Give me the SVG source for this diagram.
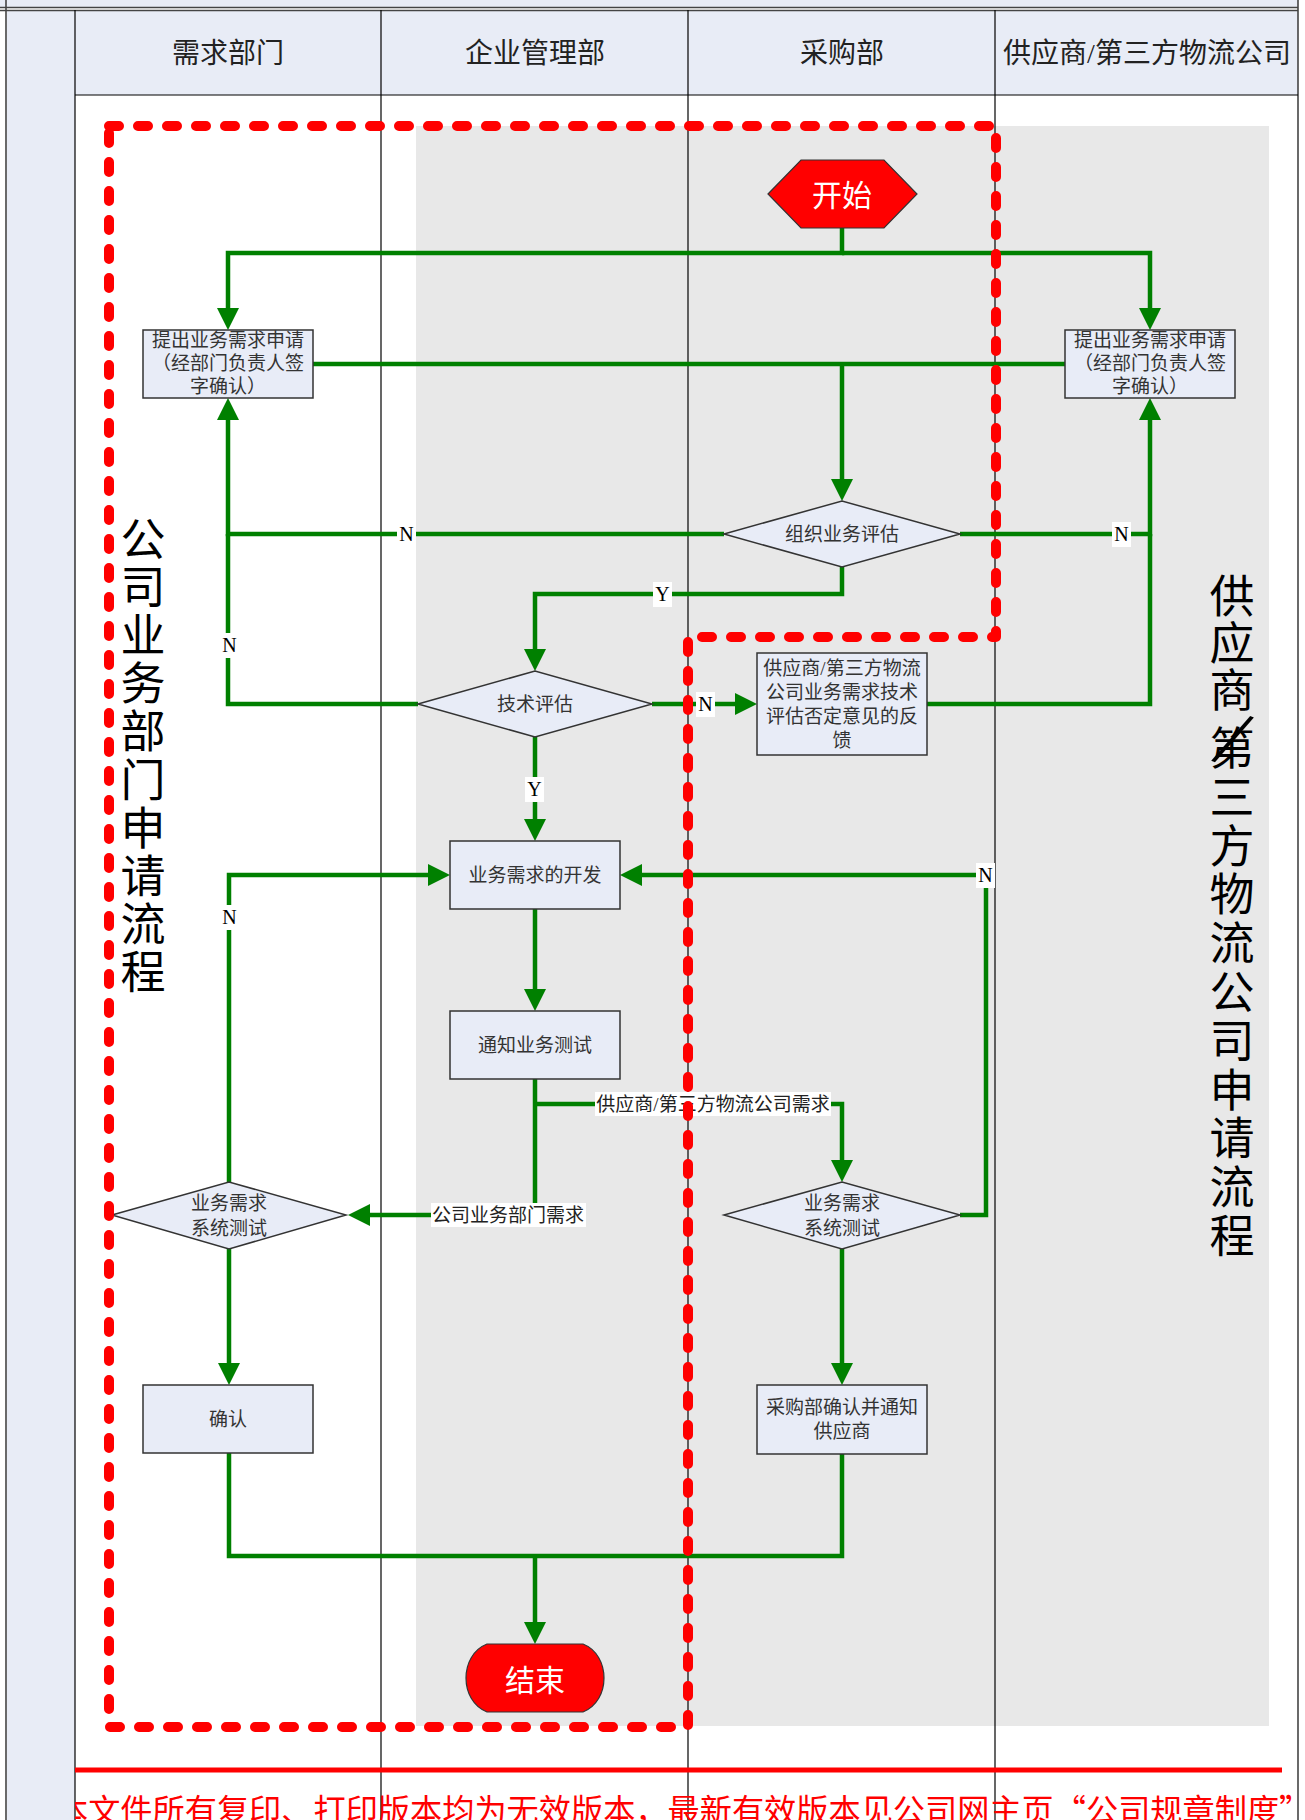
<svg xmlns="http://www.w3.org/2000/svg" width="1305" height="1820" viewBox="0 0 1305 1820">
<defs>
<style>
.lane{stroke:#000;stroke-width:1.2;fill:none}
.frame{stroke:#444;stroke-width:1.6;fill:none}
.node{fill:#E8ECF7;stroke:#333;stroke-width:1.5}
.t{font-family:"Liberation Serif","Noto Sans CJK SC",serif;font-size:19px;fill:#333;text-anchor:middle;dominant-baseline:central}
.hd{font-family:"Liberation Serif","Noto Sans CJK SC",serif;font-size:28px;fill:#222;text-anchor:middle;dominant-baseline:central}
.c{fill:none;stroke:#008000;stroke-width:4.5;stroke-linejoin:miter}
.ca{marker-end:url(#ah)}
.lbl{font-family:"Liberation Serif","Noto Sans CJK SC",serif;font-size:20px;fill:#000;text-anchor:middle;dominant-baseline:central}
.lb{fill:#fff}
.big{font-family:"Noto Sans CJK SC",sans-serif;font-size:45px;fill:#000;text-anchor:middle;dominant-baseline:central}
.term{fill:#FF0000;stroke:#333;stroke-width:1.2}
.tt{font-family:"Noto Sans CJK SC",sans-serif;font-size:30px;fill:#fff;text-anchor:middle;dominant-baseline:central}
.dash{fill:none;stroke:#FF0000;stroke-width:10;stroke-dasharray:10 19;stroke-linecap:round;stroke-linejoin:round}
</style>
<marker id="ah" markerUnits="userSpaceOnUse" markerWidth="22" markerHeight="22" viewBox="0 0 22 22" refX="12" refY="11" orient="auto"><path d="M0,0 L22,11 L0,22 z" fill="#008000"/></marker>
<clipPath id="fc"><rect x="75" y="1730" width="1230" height="90"/></clipPath>
</defs>

<g id="background">
<rect x="0" y="0" width="1305" height="1820" fill="#fff"/>
<rect x="0" y="0" width="1298" height="8" fill="#E8ECF6"/>
<rect x="75" y="10" width="1223" height="85" fill="#E8ECF6"/>
<rect x="7" y="10" width="68" height="1810" fill="#E8ECF6"/>
<rect x="416" y="126" width="853" height="1600" fill="#E8E8E8"/>
</g>

<g id="lanes">
<line class="frame" x1="0" y1="7.5" x2="1298" y2="7.5"/>
<line class="frame" x1="0" y1="10.5" x2="1298" y2="10.5"/>
<line class="frame" x1="6" y1="0" x2="6" y2="1820"/>
<line class="frame" x1="1298" y1="0" x2="1298" y2="1820"/>
<line class="lane" x1="75" y1="10" x2="75" y2="1820"/>
<line class="lane" x1="381" y1="10" x2="381" y2="1820"/>
<line class="lane" x1="688" y1="10" x2="688" y2="1820"/>
<line class="lane" x1="995" y1="10" x2="995" y2="1820"/>
<line class="lane" x1="75" y1="95" x2="1298" y2="95"/>
<text class="hd" x="228" y="53">需求部门</text>
<text class="hd" x="535" y="53">企业管理部</text>
<text class="hd" x="842" y="53">采购部</text>
<text class="hd" x="1147" y="53">供应商/第三方物流公司</text>
</g>

<g id="lane-title-left">
<text class="big" x="143" y="536">公</text>
<text class="big" x="143" y="584">司</text>
<text class="big" x="143" y="632">业</text>
<text class="big" x="143" y="680">务</text>
<text class="big" x="143" y="728">部</text>
<text class="big" x="143" y="777">门</text>
<text class="big" x="143" y="825">申</text>
<text class="big" x="143" y="873">请</text>
<text class="big" x="143" y="921">流</text>
<text class="big" x="143" y="969">程</text>
</g>

<g id="lane-title-right">
<text class="big" x="1232" y="593">供</text>
<text class="big" x="1232" y="640">应</text>
<text class="big" x="1232" y="687">商</text>
<text class="big" x="0" y="0" style="font-family:'Liberation Serif',serif;font-size:84px" transform="translate(1233,738) rotate(22)">/</text>
<text class="big" x="1232" y="745">第</text>
<text class="big" x="1232" y="794">三</text>
<text class="big" x="1232" y="843">方</text>
<text class="big" x="1232" y="891">物</text>
<text class="big" x="1232" y="940">流</text>
<text class="big" x="1232" y="989">公</text>
<text class="big" x="1232" y="1038">司</text>
<text class="big" x="1232" y="1087">申</text>
<text class="big" x="1232" y="1135">请</text>
<text class="big" x="1232" y="1184">流</text>
<text class="big" x="1232" y="1233">程</text>
</g>

<g id="connectors">
<path class="c ca" d="M842,228 V253 H228 V320"/>
<path class="c ca" d="M842,253 H1150 V320"/>
<path class="c" d="M313,364 H1065"/>
<path class="c ca" d="M842,364 V491"/>
<path class="c ca" d="M724,534 H228 V408"/>
<path class="c ca" d="M960,534 H1150 V408"/>
<path class="c ca" d="M842,567 V594 H535 V661"/>
<path class="c" d="M418,704 H228 V534"/>
<path class="c ca" d="M652,704 H747"/>
<path class="c" d="M927,704 H1150 V534"/>
<path class="c ca" d="M535,737 V831"/>
<path class="c ca" d="M535,909 V1001"/>
<path class="c ca" d="M535,1079 V1215 H358"/>
<path class="c ca" d="M535,1104 H842 V1172"/>
<path class="c ca" d="M960,1215 H986 V875 H630"/>
<path class="c ca" d="M229,1182 V875 H440"/>
<path class="c ca" d="M229,1249 V1375"/>
<path class="c ca" d="M842,1249 V1375"/>
<path class="c" d="M229,1453 V1556 H842 V1454"/>
<path class="c ca" d="M535,1556 V1634"/>
</g>

<g id="connector-labels">
<rect class="lb" x="397" y="522" width="19" height="25"/><text class="lbl" x="406.5" y="534">N</text>
<rect class="lb" x="1112" y="522" width="19" height="25"/><text class="lbl" x="1121.5" y="534">N</text>
<rect class="lb" x="653" y="582" width="19" height="25"/><text class="lbl" x="662.5" y="594">Y</text>
<rect class="lb" x="220" y="633" width="19" height="25"/><text class="lbl" x="229.5" y="645">N</text>
<rect class="lb" x="696" y="692" width="19" height="25"/><text class="lbl" x="705.5" y="704">N</text>
<rect class="lb" x="525" y="777" width="19" height="25"/><text class="lbl" x="534.5" y="789">Y</text>
<rect class="lb" x="976" y="863" width="19" height="25"/><text class="lbl" x="985.5" y="875">N</text>
<rect class="lb" x="220" y="905" width="19" height="25"/><text class="lbl" x="229.5" y="917">N</text>
<rect class="lb" x="595" y="1092" width="236" height="24"/><text class="t" x="713" y="1104" style="fill:#222">供应商/第三方物流公司需求</text>
<rect class="lb" x="431" y="1203" width="155" height="24"/><text class="t" x="508" y="1215" style="fill:#222">公司业务部门需求</text>
</g>

<g id="start">
<polygon class="term" points="768,194 801,160 884,160 917,194 884,228 801,228"/>
<text class="tt" x="842" y="193">开始</text>
</g>

<g id="req-left">
<rect class="node" x="143" y="330" width="170" height="68"/>
<text class="t" x="228" y="340">提出业务需求申请</text>
<text class="t" x="228" y="363">（经部门负责人签</text>
<text class="t" x="228" y="386">字确认）</text>
</g>

<g id="req-right">
<rect class="node" x="1065" y="330" width="170" height="68"/>
<text class="t" x="1150" y="340">提出业务需求申请</text>
<text class="t" x="1150" y="363">（经部门负责人签</text>
<text class="t" x="1150" y="386">字确认）</text>
</g>

<g id="biz-eval">
<polygon class="node" points="724,534 842,501 960,534 842,567"/>
<text class="t" x="842" y="534">组织业务评估</text>
</g>

<g id="tech-eval">
<polygon class="node" points="418,704 535,671 652,704 535,737"/>
<text class="t" x="535" y="704">技术评估</text>
</g>

<g id="feedback">
<rect class="node" x="757" y="653" width="170" height="102"/>
<text class="t" x="842" y="668">供应商/第三方物流</text>
<text class="t" x="842" y="692">公司业务需求技术</text>
<text class="t" x="842" y="716">评估否定意见的反</text>
<text class="t" x="842" y="740">馈</text>
</g>

<g id="develop">
<rect class="node" x="450" y="841" width="170" height="68"/>
<text class="t" x="535" y="875">业务需求的开发</text>
</g>

<g id="notify-test">
<rect class="node" x="450" y="1011" width="170" height="68"/>
<text class="t" x="535" y="1045">通知业务测试</text>
</g>

<g id="test-left">
<polygon class="node" points="112,1215 229,1182 346,1215 229,1249"/>
<text class="t" x="229" y="1203">业务需求</text>
<text class="t" x="229" y="1228">系统测试</text>
</g>

<g id="test-right">
<polygon class="node" points="724,1215 842,1182 960,1215 842,1249"/>
<text class="t" x="842" y="1203">业务需求</text>
<text class="t" x="842" y="1228">系统测试</text>
</g>

<g id="confirm">
<rect class="node" x="143" y="1385" width="170" height="68"/>
<text class="t" x="228" y="1419">确认</text>
</g>

<g id="purchase-confirm">
<rect class="node" x="757" y="1385" width="170" height="69"/>
<text class="t" x="842" y="1407">采购部确认并通知</text>
<text class="t" x="842" y="1431">供应商</text>
</g>

<g id="end">
<path class="term" d="M487,1644 H583 C611,1655 611,1701 583,1712 H487 C459,1701 459,1655 487,1644 Z"/>
<text class="tt" x="535" y="1678">结束</text>
</g>

<g id="boundary">
<path class="dash" d="M109,126 H996 V637 H688 V1727 H109 Z"/>
</g>

<g id="footer">
<line x1="75" y1="1770" x2="1282" y2="1770" stroke="#FF0000" stroke-width="5"/>
<text clip-path="url(#fc)" x="56" y="1822" style="font-family:'Noto Sans CJK SC',sans-serif;font-size:32.2px;fill:#FF0000">本文件所有复印、打印版本均为无效版本，最新有效版本见公司网主页“公司规章制度”</text>
</g>
</svg>
